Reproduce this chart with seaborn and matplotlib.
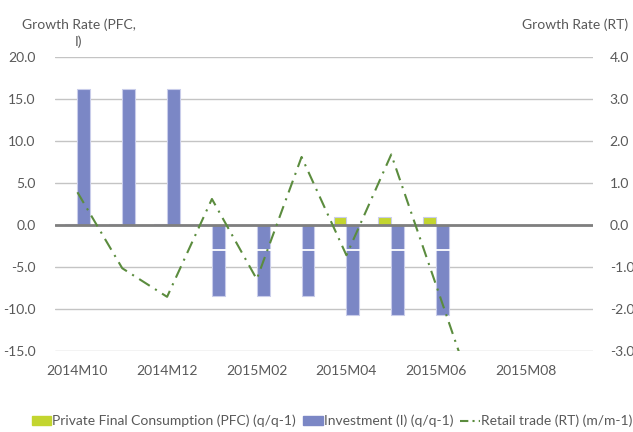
import numpy as np
import pandas as pd
import matplotlib
matplotlib.use("Agg")
import matplotlib.pyplot as plt
from matplotlib.patches import Patch
from matplotlib.lines import Line2D
from matplotlib.ticker import FixedLocator, FormatStrFormatter
import seaborn as sns

months = ["2014M10", "2014M11", "2014M12", "2015M01", "2015M02", "2015M03",
          "2015M04", "2015M05", "2015M06", "2015M07", "2015M08", "2015M09"]
pfc = [0.1, 0.1, 0.1, 0.0, 0.0, 0.0, 0.9, 0.9, 0.9, np.nan, np.nan, np.nan]
investment = [16.2, 16.2, 16.2, -8.5, -8.5, -8.5, -10.7, -10.7, -10.7,
              np.nan, np.nan, np.nan]
retail = [0.78, -1.03, -1.71, 0.62, -1.29, 1.62, -0.72, 1.68, -1.43, -4.55,
          np.nan, np.nan]

pfc_label = "Private Final Consumption (PFC) (q/q-1)"
inv_label = "Investment (I) (q/q-1)"
rt_label = "Retail trade (RT) (m/m-1)"

GREEN = "#c3d52f"
BLUE = "#7b87c5"
LINE = "#5b8c3e"
TEXT = "#595959"
FS = 10

sns.set_style("white")
plt.rcParams["font.family"] = ["Lato", "DejaVu Sans"]

bars = pd.DataFrame({
    "month": months * 2,
    "value": pfc + investment,
    "series": [pfc_label] * len(months) + [inv_label] * len(months),
})

fig = plt.figure(figsize=(6.33, 4.32), dpi=100)
ax = fig.add_axes([0.0869, 0.1875, 0.8499, 0.6805])

sns.barplot(data=bars, x="month", y="value", hue="series", order=months,
            hue_order=[pfc_label, inv_label], palette=[GREEN, BLUE],
            width=0.57, dodge=True, ax=ax, legend=False,
            edgecolor="#c9cdea", linewidth=0.8, saturation=1)

# divider across the negative investment bars
ax.axhline(-3.0, color="white", lw=1.3, zorder=3)

ax.set_ylim(-15, 20)
ax.set_xlim(-0.5, len(months) - 0.5)
ax.set_yticks(np.arange(-15, 20.1, 5))
ax.yaxis.set_major_formatter(FormatStrFormatter("%.1f"))
ax.grid(axis="y", color="#c4c4c4", lw=1.0)
ax.set_axisbelow(True)
ax.axhline(0, color="#7f7f7f", lw=2.0, zorder=3.5)

ax.set_xticks(range(0, len(months), 2))
ax.set_xticklabels(months[::2])
ax.xaxis.set_minor_locator(FixedLocator(np.arange(-0.5, len(months), 1)))
ax.tick_params(axis="x", which="major", length=0, pad=10, labelsize=FS,
               labelcolor=TEXT)
ax.tick_params(axis="x", which="minor", length=5, width=1.0, color="#a6a6a6",
               direction="out")
ax.tick_params(axis="y", length=0, pad=14, labelsize=FS, labelcolor=TEXT)
for s in ax.spines.values():
    s.set_visible(False)
ax.set_xlabel("")
ax.set_ylabel("")

# retail trade on the secondary axis
ax2 = ax.twinx()
sns.lineplot(x=np.arange(len(months)), y=retail, ax=ax2, color=LINE,
             lw=1.5, linestyle=(0, (6, 3, 1, 3)))
ax2.set_ylim(-3, 4)
ax2.set_yticks(np.arange(-3, 4.1, 1))
ax2.yaxis.set_major_formatter(FormatStrFormatter("%.1f"))
ax2.tick_params(axis="y", length=0, pad=12, labelsize=FS, labelcolor=TEXT)
for s in ax2.spines.values():
    s.set_visible(False)
ax2.set_ylabel("")

fig.text(0.124, 0.958, "Growth Rate (PFC,\nI)", ha="center", va="top",
         fontsize=FS, color=TEXT, linespacing=1.45)
fig.text(0.993, 0.958, "Growth Rate (RT)", ha="right", va="top",
         fontsize=FS, color=TEXT)

handles = [Patch(facecolor=GREEN, edgecolor=GREEN),
           Patch(facecolor=BLUE, edgecolor=BLUE),
           Line2D([0], [0], color=LINE, lw=1.5, linestyle=(0, (4, 2, 1, 2)))]
fig.legend(handles, [pfc_label, inv_label, rt_label], loc="center left",
           bbox_to_anchor=(0.05, 0.025), ncol=3, frameon=False,
           fontsize=FS, labelcolor=TEXT, handlelength=1.4,
           handleheight=0.7, handletextpad=0.1, columnspacing=0.5,
           borderpad=0.0, borderaxespad=0.0)

fig.savefig("out.png", dpi=100)
